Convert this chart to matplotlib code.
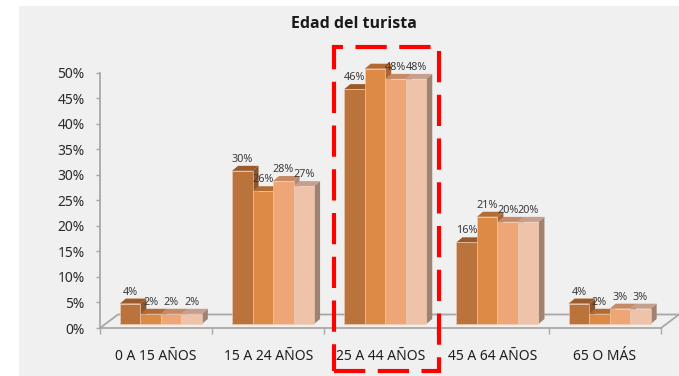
import matplotlib
matplotlib.use("Agg")
from matplotlib import pyplot as plt
from matplotlib.patches import Polygon, Rectangle
from matplotlib.lines import Line2D

plt.rcParams['font.family'] = ['Noto Sans', 'DejaVu Sans']

# Datos: porcentaje de turistas por grupo de edad (cuatro series)
categorias = ['0 A 15 AÑOS', '15 A 24 AÑOS', '25 A 44 AÑOS', '45 A 64 AÑOS', '65 O MÁS']
serie1 = [4, 30, 46, 16, 4]
serie2 = [2, 26, 50, 21, 2]
serie3 = [2, 28, 48, 20, 3]
serie4 = [2, 27, 48, 20, 3]
series = [serie1, serie2, serie3, serie4]
marcas_y = [0, 5, 10, 15, 20, 25, 30, 35, 40, 45, 50]

# colores de cara frontal, techo y lateral de cada serie
frente = ['#b9733b', '#dc8a46', '#eea677', '#efc2aa']
techo = ['#9a5a2b', '#b26b32', '#c68a66', '#c6a08c']
lateral = ['#8a552f', '#a5683a', '#b38670', '#a08272']

W, H = 679, 376
fig = plt.figure(figsize=(W / 100, H / 100), dpi=100)
fig.patches.append(Rectangle((19 / W, 0), 1 - 19 / W, 1 - 6 / H, transform=fig.transFigure,
                             facecolor='#f0f0f0', edgecolor='none', zorder=-10))

ax = fig.add_axes([100 / W, 48 / H, 561 / W, 255.3 / H])
ax.set_xlim(0, 5)
ax.set_ylim(0, 50)
ax.patch.set_visible(False)

# pixeles -> unidades de datos
px_x = 561 / 5
px_y = 255.3 / 50

# suelo en perspectiva
fdx, fdy = 18 / px_x, 13.5 / px_y
gris = '#a8a8a8'
ax.add_line(Line2D([0, fdx, 5 + fdx, 5], [0, fdy, fdy, 0], color=gris, lw=1.3, clip_on=False, zorder=1))

# barras 3D
base = 4 / px_y
bdx, bdy = 6 / px_x, 5 / px_y
ancho = 20.5 / px_x
inicio = 0.177
for j, serie in enumerate(series):
    xs = [i + inicio + j * ancho for i in range(len(categorias))]
    ax.bar(xs, serie, ancho, bottom=base, align='edge', color=frente[j], edgecolor='#f2cdb4',
           linewidth=0.4, clip_on=False, zorder=4)
    for x0, v in zip(xs, serie):
        y0, y1 = base, base + v
        ax.add_patch(Polygon([(x0, y1), (x0 + ancho, y1), (x0 + ancho + bdx, y1 + bdy), (x0 + bdx, y1 + bdy)],
                             closed=True, facecolor=techo[j], edgecolor='none', clip_on=False, zorder=3))
        ax.add_patch(Polygon([(x0 + ancho, y0), (x0 + ancho + bdx, y0 + bdy), (x0 + ancho + bdx, y1 + bdy),
                              (x0 + ancho, y1)],
                             closed=True, facecolor=lateral[j], edgecolor='none', clip_on=False, zorder=2))
        ax.annotate(f'{v}%', (x0 + ancho / 2, y1), xytext=(0, 9), textcoords='offset pixels',
                    ha='center', va='baseline', fontsize=7.8, color='#3a3a3a', zorder=6)

# ejes
for lado in ['top', 'right']:
    ax.spines[lado].set_visible(False)
ax.spines['left'].set_color(gris)
ax.spines['bottom'].set_color(gris)
ax.spines['left'].set_linewidth(1.3)
ax.spines['bottom'].set_linewidth(1.3)

ax.set_yticks(marcas_y)
ax.set_yticklabels([f'{m}%' for m in marcas_y])
ax.tick_params(axis='y', length=3, width=1, color=gris, pad=8, labelsize=10, labelcolor='#2a2a2a')

ax.set_xticks(range(len(categorias) + 1))
ax.set_xticklabels([])
ax.set_xticks([i + 0.5 for i in range(len(categorias))], minor=True)
ax.set_xticklabels(categorias, minor=True)
ax.tick_params(axis='x', which='major', length=4, width=1, color=gris)
ax.tick_params(axis='x', which='minor', length=0, pad=15, labelsize=10, labelcolor='#1e1e1e')

fig.text(354 / W, 1 - 24 / H, 'Edad del turista', ha='center', va='center',
         fontsize=11.5, fontweight='bold', color='#1a1a1a', family=['Open Sans', 'DejaVu Sans'])

# recuadro rojo de la franja 25 a 44 años
fig.patches.append(Rectangle((334 / W, 1 - 371 / H), 105 / W, 324 / H, transform=fig.transFigure,
                             fill=False, edgecolor='#ff0000', lw=3, linestyle=(0, (7.5, 3)), zorder=10))

fig.savefig('out.png', dpi=100)
